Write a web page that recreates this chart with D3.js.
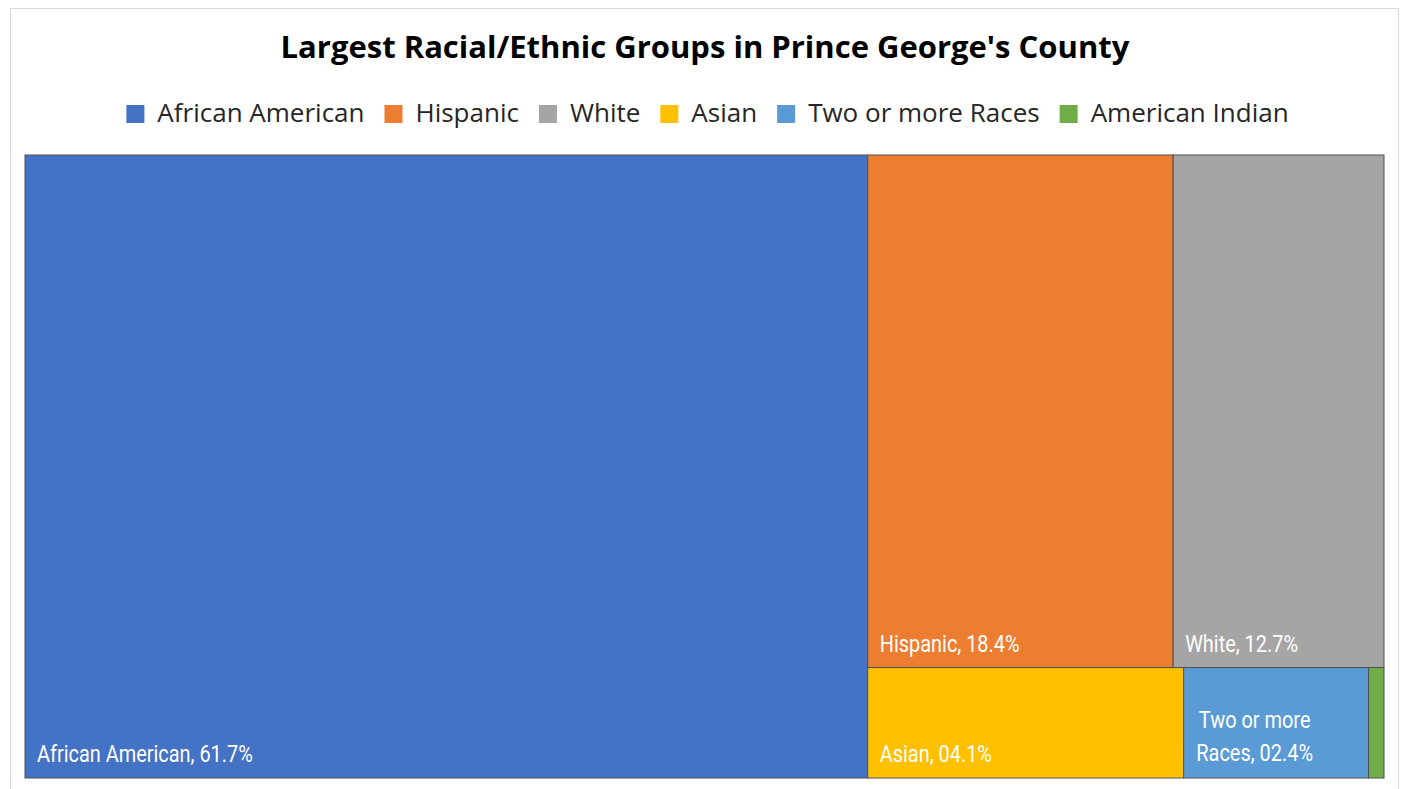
<!DOCTYPE html>
<html>
<head>
<meta charset="utf-8">
<script src="https://cdn.jsdelivr.net/npm/d3@7"></script>
<style>
  html, body { margin: 0; padding: 0; background: #ffffff; }
  svg { display: block; }
</style>
</head>
<body>
<svg id="chart" width="1407" height="789"></svg>
<script>
// Population shares (%) by group
const groups = ["African American", "Hispanic", "White", "Asian", "Two or more Races", "American Indian"];
const shares = [61.7, 18.4, 12.7, 4.1, 2.4, 0.2];
const colors = ["#4472C4", "#ED7D31", "#A5A5A5", "#FFC000", "#5B9BD5", "#70AD47"];
// Block arrangement: first group alone, the rest split into two rows
const rowTop = ["Hispanic", "White"];
const rowBottom = ["Asian", "Two or more Races", "American Indian"];

const W = 1407, H = 789;
const svg = d3.select("#chart");

// outer frame
svg.append("rect").attr("x", 10.5).attr("y", 8.5).attr("width", 1388).attr("height", 790)
  .attr("fill", "#fff").attr("stroke", "#d9d9d9").attr("stroke-width", 1);

// title
svg.append("text").attr("x", 705).attr("y", 58).attr("text-anchor", "middle")
  .attr("font-family", "'Open Sans', 'Noto Sans', sans-serif").attr("font-weight", 700)
  .attr("font-size", 31).attr("fill", "#000").text("Largest Racial/Ethnic Groups in Prince George's County");

// legend
const color = d3.scaleOrdinal().domain(groups).range(colors);
const legend = svg.append("g");
let lx = 0;
groups.forEach(g => {
  const it = legend.append("g").attr("transform", `translate(${lx},0)`);
  it.append("rect").attr("x", 0).attr("y", -17).attr("width", 18).attr("height", 18).attr("fill", color(g));
  const t = it.append("text").attr("x", 31).attr("y", 0)
    .attr("font-family", "'Open Sans', 'Noto Sans', sans-serif").attr("font-size", 26)
    .attr("fill", "#262626").text(g);
  const w = t.node().getComputedTextLength();
  lx += 31 + w + 20;
});
const legendW = lx - 20;
legend.attr("transform", `translate(${(W - legendW) / 2 + 4},122)`);

// treemap
const x0 = 25, y0 = 155, x1 = 1384, y1 = 778;
const val = Object.fromEntries(groups.map((g, i) => [g, shares[i]]));
const data = {
  name: "root",
  children: [
    { name: groups[0], value: val[groups[0]] },
    { name: "rest", children: [
      { name: "top", children: rowTop.map(n => ({ name: n, value: val[n] })) },
      { name: "bottom", children: rowBottom.map(n => ({ name: n, value: val[n] })) }
    ] }
  ]
};
const root = d3.hierarchy(data).sum(d => d.value || 0);
d3.treemap().tile(d3.treemapSliceDice).size([x1 - x0, y1 - y0]).round(false)(root);

const cells = svg.append("g").attr("transform", `translate(${x0},${y0})`);
const leaves = root.leaves();
cells.selectAll("rect").data(leaves).join("rect")
  .attr("x", d => d.x0).attr("y", d => d.y0)
  .attr("width", d => d.x1 - d.x0).attr("height", d => d.y1 - d.y0)
  .attr("fill", d => color(d.data.name))
  .attr("stroke", "#505050").attr("stroke-width", 1);

// data labels: narrow face, approximated by squeezing Roboto horizontally
const fmt = d3.format("04.1f");
const squeeze = 0.83;
const labelFont = "Roboto, 'Noto Sans', sans-serif";
leaves.forEach(d => {
  const w = d.x1 - d.x0;
  if (w < 60) return;
  const label = `${d.data.name}, ${fmt(d.data.value)}%`;
  const t = cells.append("text").attr("font-family", labelFont).attr("font-size", 24)
    .attr("fill", "#fff").text(label);
  const tw = t.node().getComputedTextLength() * squeeze;
  if (tw <= w - 20) {
    const lxp = d.x0 + 12, lyp = d.y1 - 16;
    t.attr("transform", `translate(${lxp},${lyp}) scale(${squeeze},1)`);
  } else {
    // wrap onto two lines, centered in the label box
    const words = label.split(" ");
    const cut = words.indexOf("more") + 1;
    const lines = [words.slice(0, cut).join(" "), words.slice(cut).join(" ")];
    t.text(null).attr("text-anchor", "middle")
      .attr("transform", `translate(${d.x0 + 71},${d.y1 - 50}) scale(${squeeze},1)`);
    lines.forEach((ln, i) => {
      t.append("tspan").attr("x", 0).attr("y", i * 33).text(ln);
    });
  }
});
</script>
</body>
</html>
